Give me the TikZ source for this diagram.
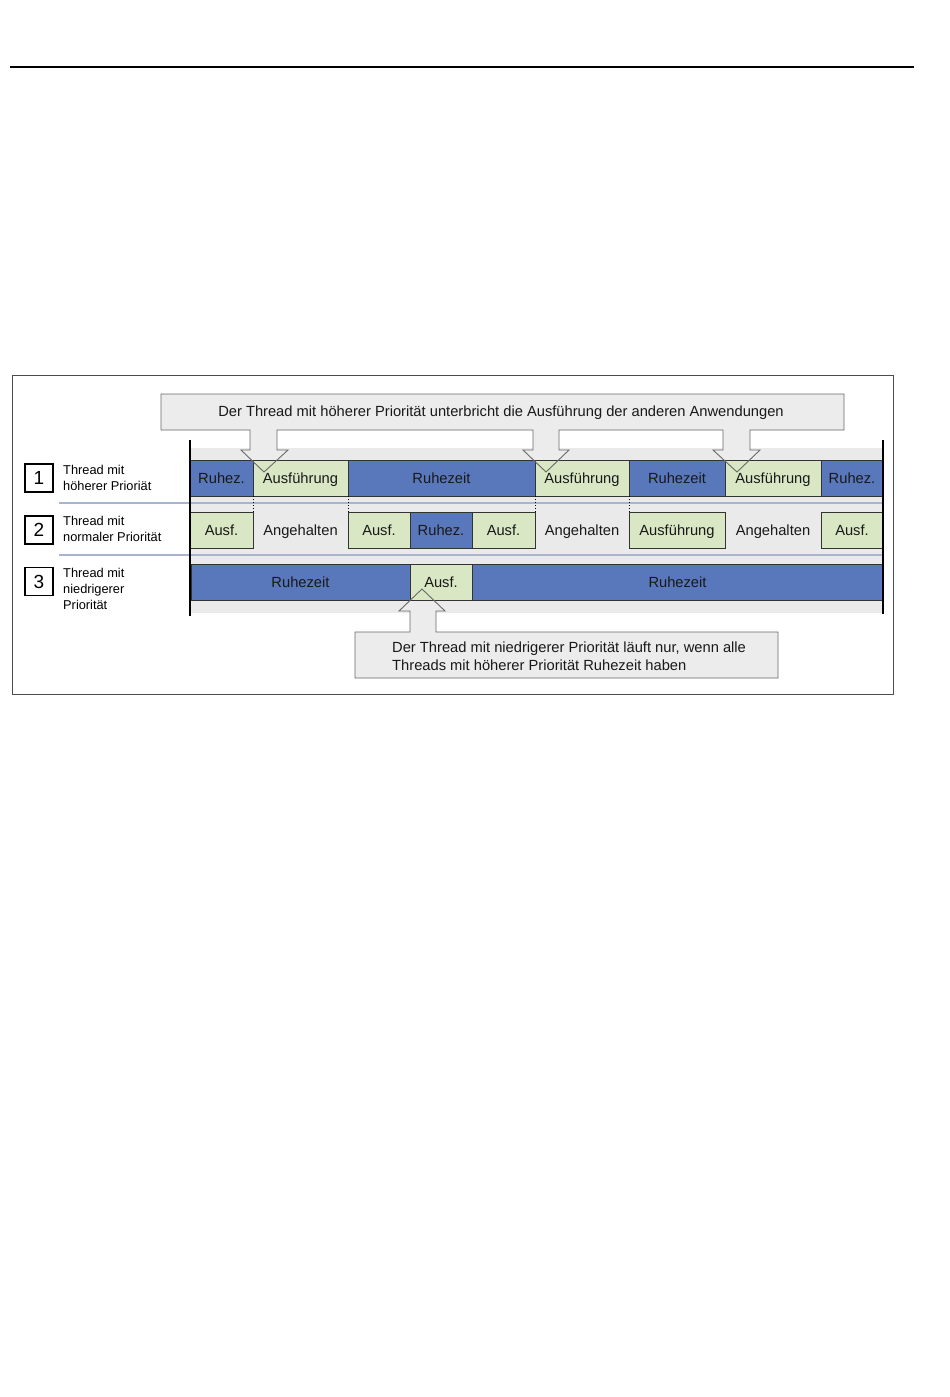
\documentclass[tikz,border=0pt]{standalone}
\usepackage{fontspec}
\setmainfont{Liberation Sans}
\definecolor{blk}{RGB}{89,119,187}
\definecolor{grn}{RGB}{218,231,197}
\definecolor{band}{RGB}{234,234,234}
\definecolor{sepc}{RGB}{168,180,208}
\definecolor{callfill}{RGB}{236,236,236}
\definecolor{callline}{RGB}{105,105,105}
\newcommand\segm[7]{\node[#2, minimum width={#4-#3}, minimum height={#6-#5}] (#1) at ({(#3+#4)/2},{(#5+#6)/2}) {#7};}
\begin{document}
\begin{tikzpicture}[x=1pt,y=-1pt,
  seg/.style={draw=black!80, line width=0.8pt, inner sep=0pt, outer sep=0pt, text=black!90, text height=12.6pt, text depth=2.1pt, font=\fontsize{14.7}{17}\selectfont},
  blueseg/.style={seg, fill=blk},
  greenseg/.style={seg, fill=grn},
  plainseg/.style={seg, draw=none},
  numbox/.style={draw=black, line width=1.3pt, fill=white, minimum size=28pt, inner sep=0pt, text height=13.7pt, text depth=0pt, font=\fontsize{19}{19}\selectfont},
  lbl/.style={anchor=west, align=left, inner sep=0pt, font=\fontsize{12.8}{16}\selectfont},
  calltxt/.style={inner sep=0pt, font=\fontsize{14.7}{18}\selectfont, text=black!90},
  sepline/.style={draw=sepc, line width=2pt},
  tline/.style={line width=1.8pt, black},
  dotline/.style={dash pattern=on 1.2pt off 1.8pt, line width=1pt, black},
  toppath/.style={insert path={(161,394) -- (844,394) -- (844,430) -- (750,430) -- (750,450) -- (760,450) -- (737,472) -- (713,450) -- (723,450) -- (723,430) -- (559,430) -- (559,450) -- (569,450) -- (546,472) -- (523,450) -- (533,450) -- (533,430) -- (277,430) -- (277,450) -- (288,450) -- (264,472) -- (241,450) -- (250,450) -- (250,430) -- (161,430) -- cycle}},
  botpath/.style={insert path={(355,678) -- (778,678) -- (778,632) -- (436,632) -- (436,611) -- (445,611) -- (422,589) -- (399,611) -- (410,611) -- (410,632) -- (355,632) -- cycle}}
]
\useasboundingbox (0,0) rectangle (950,1397);
\fill[white] (0,0) rectangle (950,1397);
% top rule
\draw[line width=1.4pt] (10,67) -- (914,67);
% frame
\draw[draw=black!70, line width=0.9pt] (12,375) rectangle (893,694);
% band
\fill[band] (190,448) rectangle (883,613);
\draw[sepline] (59,503) -- (883,503);
\draw[sepline] (59,555) -- (883,555);
% callout fills
\fill[callfill, toppath];
\fill[callfill, botpath];
% row 1
\segm{a1}{blueseg}{190}{253}{460}{496}{Ruhez.}
\segm{a2}{greenseg}{253}{348}{460}{496}{Ausführung}
\segm{a3}{blueseg}{348}{535}{460}{496}{Ruhezeit}
\segm{a4}{greenseg}{535}{629}{460}{496}{Ausführung}
\segm{a5}{blueseg}{629}{725}{460}{496}{Ruhezeit}
\segm{a6}{greenseg}{725}{821}{460}{496}{Ausführung}
\segm{a7}{blueseg}{821}{883}{460}{496}{Ruhez.}
% row 2
\segm{b1}{greenseg}{190}{253}{512}{548}{Ausf.}
\segm{b2}{plainseg}{253}{348}{512}{548}{Angehalten}
\segm{b3}{greenseg}{348}{410}{512}{548}{Ausf.}
\segm{b4}{blueseg}{410}{472}{512}{548}{Ruhez.}
\segm{b5}{greenseg}{472}{535}{512}{548}{Ausf.}
\segm{b6}{plainseg}{535}{629}{512}{548}{Angehalten}
\segm{b7}{greenseg}{629}{725}{512}{548}{Ausführung}
\segm{b8}{plainseg}{725}{821}{512}{548}{Angehalten}
\segm{b9}{greenseg}{821}{883}{512}{548}{Ausf.}
% row 3
\segm{c1}{blueseg}{191}{410}{564}{600}{Ruhezeit}
\segm{c2}{greenseg}{410}{472}{564}{600}{Ausf.}
\segm{c3}{blueseg}{472}{883}{564}{600}{Ruhezeit}
% dotted boundaries
\draw[dotline] (a2.south west) -- (b2.north west);
\draw[dotline] (a3.south west) -- (b3.north west);
\draw[dotline] (a4.south west) -- (b6.north west);
\draw[dotline] (a5.south west) -- (b7.north west);
% timeline borders
\coordinate (tl1) at (190,440);
\coordinate (tl2) at (190,616);
\coordinate (tr1) at (883,440);
\coordinate (tr2) at (883,614);
\draw[tline] (tl1) -- (tl2);
\draw[tline] (tr1) -- (tr2);
% callout outlines
\draw[callline, line width=0.9pt, line join=miter, toppath];
\draw[callline, line width=0.9pt, line join=miter, botpath];
\node[calltxt, text height=12.6pt, text depth=2.1pt] (toptext) at (501,411) {Der Thread mit höherer Priorität unterbricht die Ausführung der anderen Anwendungen};
\node[calltxt, anchor=west, align=left] (bottext) at (392,656) {Der Thread mit niedrigerer Priorität läuft nur, wenn alle\\Threads mit höherer Priorität Ruhezeit haben};
% left labels
\node[numbox] (n1) at (39,478) {1};
\node[numbox] (n2) at (39,530) {2};
\node[numbox] (n3) at (39,581.5) {3};
\node[lbl] (l1) at (63,478) {Thread mit\\höherer Prioriät};
\node[lbl] (l2) at (63,529) {Thread mit\\normaler Priorität};
\node[lbl] (l3) at (63,589) {Thread mit\\niedrigerer\\Priorität};
\end{tikzpicture}
\end{document}
